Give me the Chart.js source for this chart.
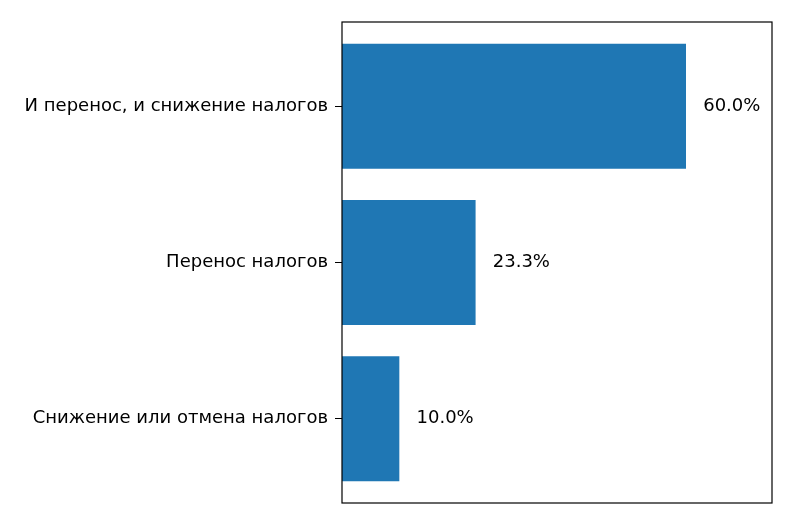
<!DOCTYPE html>
<html>
<head>
<meta charset="utf-8">
<script src="https://cdn.jsdelivr.net/npm/chart.js@4"></script>
<style>
  html, body { margin: 0; padding: 0; background: #fff; }
  #wrap { width: 794px; height: 525px; position: relative; }
</style>
</head>
<body>
<div id="wrap"><canvas id="chart"></canvas></div>
<script>
/* data */
const categories = ['И перенос, и снижение налогов', 'Перенос налогов', 'Снижение или отмена налогов'];
const shares     = [60.0, 23.3, 10.0];
const shareLabels = ['60.0%', '23.3%', '10.0%'];

const FONT = '"DejaVu Sans", sans-serif';

// black box round the plot, like matplotlib's spines
const framePlugin = {
  id: 'frame',
  afterDraw(chart) {
    const { ctx, chartArea: a } = chart;
    ctx.save();
    ctx.strokeStyle = '#000';
    ctx.lineWidth = 1.2;
    ctx.strokeRect(a.left, a.top, a.right - a.left, a.bottom - a.top);
    ctx.restore();
  }
};

// value text right of each bar
const valuePlugin = {
  id: 'values',
  afterDatasetsDraw(chart) {
    const { ctx, scales } = chart;
    ctx.save();
    ctx.font = '18px ' + FONT;
    ctx.fillStyle = '#000';
    ctx.textBaseline = 'middle';
    ctx.textAlign = 'left';
    shares.forEach((v, i) => {
      ctx.fillText(shareLabels[i], scales.x.getPixelForValue(v + 3), scales.y.getPixelForValue(i));
    });
    ctx.restore();
  }
};

new Chart(document.getElementById('chart'), {
  type: 'bar',
  data: {
    datasets: [{
      data: shares.map((v, i) => ({ x: v, y: i })),
      backgroundColor: '#1f77b4',
      barPercentage: 0.8,
      categoryPercentage: 1.0,
    }],
  },
  options: {
    indexAxis: 'y',
    responsive: true, maintainAspectRatio: false,
    animation: false,
    layout: { padding: { top: 22, right: 22, bottom: 22, left: 0 } },
    plugins: { legend: { display: false }, tooltip: { enabled: false } },
    scales: {
      x: {
        type: 'linear', min: 0, max: 75, display: false,
      },
      y: {
        type: 'linear', min: -0.54, max: 2.54, reverse: true, offset: false,
        afterBuildTicks: axis => { axis.ticks = [0, 1, 2].map(v => ({ value: v })); },
        afterFit: axis => { axis.width = 342; },
        ticks: {
          callback: v => categories[v],
          color: '#000', font: { family: FONT, size: 18 }, padding: 7,
        },
        grid: { offset: false, drawOnChartArea: false, drawTicks: true, tickLength: 7, color: '#000' },
        border: { display: false },
      },
    },
  },
  plugins: [framePlugin, valuePlugin],
});
</script>
</body>
</html>
